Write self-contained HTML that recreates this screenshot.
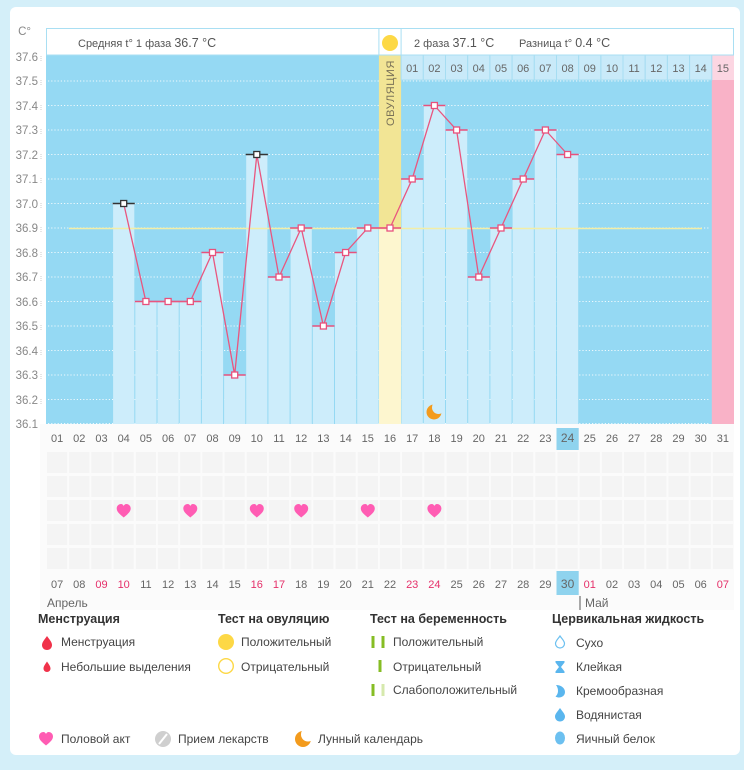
<!DOCTYPE html>
<html><head><meta charset="utf-8"><style>
html,body{margin:0;padding:0;background:#d4eff9;}
svg{display:block;font-family:"Liberation Sans",sans-serif;}
</style></head><body>
<svg width="744" height="770" viewBox="0 0 744 770" xmlns="http://www.w3.org/2000/svg">
<rect x="0" y="0" width="744" height="770" fill="#d4eff9"/>
<rect x="10" y="7" width="730" height="748" rx="6" fill="#ffffff"/>
<!-- bottom gray area -->
<rect x="40" y="424" width="694" height="186" fill="#fbfbfb"/>
<!-- plot bg -->
<rect x="46" y="55" width="688" height="369" fill="#95d9f3"/>
<!-- gridlines -->
<g stroke="#ffffff" stroke-width="1" stroke-dasharray="1.2 2" opacity="0.85">
<line x1="48" y1="81" x2="710" y2="81"/><line x1="48" y1="105.5" x2="710" y2="105.5"/>
<line x1="48" y1="130" x2="710" y2="130"/><line x1="48" y1="154.5" x2="710" y2="154.5"/>
<line x1="48" y1="179" x2="710" y2="179"/><line x1="48" y1="203.5" x2="710" y2="203.5"/>
<line x1="48" y1="228" x2="710" y2="228"/><line x1="48" y1="252.5" x2="710" y2="252.5"/>
<line x1="48" y1="277" x2="710" y2="277"/><line x1="48" y1="301.5" x2="710" y2="301.5"/>
<line x1="48" y1="326" x2="710" y2="326"/><line x1="48" y1="350.5" x2="710" y2="350.5"/>
<line x1="48" y1="375" x2="710" y2="375"/><line x1="48" y1="399.5" x2="710" y2="399.5"/>
<line x1="48" y1="423.5" x2="710" y2="423.5"/>
</g>
<!-- bars -->
<g fill="#cdedfb">
<rect x="113.1" y="203.5" width="21.2" height="220.5"/>
<rect x="135.3" y="301.5" width="21.2" height="122.5"/>
<rect x="157.5" y="301.5" width="21.2" height="122.5"/>
<rect x="179.7" y="301.5" width="21.2" height="122.5"/>
<rect x="201.9" y="252.5" width="21.2" height="171.5"/>
<rect x="224.1" y="375" width="21.2" height="49"/>
<rect x="246.2" y="154.5" width="21.2" height="269.5"/>
<rect x="268.4" y="277" width="21.2" height="147"/>
<rect x="290.6" y="228" width="21.2" height="196"/>
<rect x="312.8" y="326" width="21.2" height="98"/>
<rect x="335.0" y="252.5" width="21.2" height="171.5"/>
<rect x="357.2" y="228" width="21.2" height="196"/>
<rect x="401.6" y="179" width="21.2" height="245"/>
<rect x="423.8" y="105.5" width="21.2" height="318.5"/>
<rect x="446.0" y="130" width="21.2" height="294"/>
<rect x="468.2" y="277" width="21.2" height="147"/>
<rect x="490.4" y="228" width="21.2" height="196"/>
<rect x="512.6" y="179" width="21.2" height="245"/>
<rect x="534.8" y="130" width="21.2" height="294"/>
<rect x="557.0" y="154.5" width="21.2" height="269.5"/>
</g>
<!-- ovulation column -->
<rect x="378.9" y="55" width="22.2" height="173" fill="#f2e595"/>
<rect x="378.9" y="228" width="22.2" height="196" fill="#fdf6cf"/>
<text transform="translate(394,93) rotate(-90)" text-anchor="middle" font-size="11" fill="#7a7258" letter-spacing="0.6">ОВУЛЯЦИЯ</text>
<!-- pink column -->
<rect x="711.8" y="80" width="22.2" height="344" fill="#f9b2c7"/>
<rect x="711.8" y="55" width="22.2" height="25" fill="#fcd6e2"/>
<!-- cycle day row -->
<g fill="#c9eaf9" stroke="#a6ddf2" stroke-width="1">
<rect x="401.1" y="55" width="22.2" height="25"/><rect x="423.3" y="55" width="22.2" height="25"/>
<rect x="445.5" y="55" width="22.2" height="25"/><rect x="467.7" y="55" width="22.2" height="25"/>
<rect x="489.9" y="55" width="22.2" height="25"/><rect x="512.1" y="55" width="22.2" height="25"/>
<rect x="534.3" y="55" width="22.2" height="25"/><rect x="556.5" y="55" width="22.2" height="25"/>
<rect x="578.7" y="55" width="22.2" height="25"/><rect x="600.9" y="55" width="22.2" height="25"/>
<rect x="623.0" y="55" width="22.2" height="25"/><rect x="645.2" y="55" width="22.2" height="25"/>
<rect x="667.4" y="55" width="22.2" height="25"/><rect x="689.6" y="55" width="22.2" height="25"/>
</g>
<g font-size="11" fill="#666" text-anchor="middle">
<text x="412.2" y="72">01</text><text x="434.4" y="72">02</text><text x="456.6" y="72">03</text>
<text x="478.8" y="72">04</text><text x="501.0" y="72">05</text><text x="523.2" y="72">06</text>
<text x="545.4" y="72">07</text><text x="567.6" y="72">08</text><text x="589.8" y="72">09</text>
<text x="612.0" y="72">10</text><text x="634.1" y="72">11</text><text x="656.3" y="72">12</text>
<text x="678.5" y="72">13</text><text x="700.7" y="72">14</text><text x="722.9" y="72">15</text>
</g>
<!-- coverline -->
<line x1="69" y1="228.5" x2="702" y2="228.5" stroke="#f3eea6" stroke-width="1.6"/>
<!-- marker lines -->
<g stroke="#e8517c" stroke-width="1.5">
<line x1="134.8" y1="301.5" x2="201.4" y2="301.5"/>
<line x1="201.4" y1="252.5" x2="223.6" y2="252.5"/>
<line x1="223.6" y1="375" x2="245.7" y2="375"/>
<line x1="267.9" y1="277" x2="290.1" y2="277"/>
<line x1="290.1" y1="228" x2="312.3" y2="228"/>
<line x1="312.3" y1="326" x2="334.5" y2="326"/>
<line x1="334.5" y1="252.5" x2="356.7" y2="252.5"/>
<line x1="356.7" y1="228" x2="401.1" y2="228"/>
<line x1="401.1" y1="179" x2="423.3" y2="179"/>
<line x1="423.3" y1="105.5" x2="445.5" y2="105.5"/>
<line x1="445.5" y1="130" x2="467.7" y2="130"/>
<line x1="467.7" y1="277" x2="489.9" y2="277"/>
<line x1="489.9" y1="228" x2="512.1" y2="228"/>
<line x1="512.1" y1="179" x2="534.3" y2="179"/>
<line x1="534.3" y1="130" x2="556.5" y2="130"/>
<line x1="556.5" y1="154.5" x2="578.7" y2="154.5"/>
</g>
<g stroke="#333" stroke-width="1.5">
<line x1="112.6" y1="203.5" x2="134.8" y2="203.5"/>
<line x1="245.7" y1="154.5" x2="267.9" y2="154.5"/>
</g>
<!-- polyline -->
<polyline fill="none" stroke="#e9567f" stroke-width="1.3" points="123.68,203.5 145.87,301.5 168.07,301.5 190.26,301.5 212.46,252.5 234.65,375 256.84,154.5 279.04,277 301.23,228 323.43,326 345.62,252.5 367.81,228 390.01,228 412.2,179 434.4,105.5 456.59,130 478.78,277 500.98,228 523.17,179 545.37,130 567.56,154.5"/>
<!-- markers -->
<g fill="#fff" stroke="#e8517c" stroke-width="1.3">
<rect x="142.9" y="298.5" width="6" height="6"/><rect x="165.1" y="298.5" width="6" height="6"/>
<rect x="187.3" y="298.5" width="6" height="6"/><rect x="209.5" y="249.5" width="6" height="6"/>
<rect x="231.7" y="372" width="6" height="6"/><rect x="276.0" y="274" width="6" height="6"/>
<rect x="298.2" y="225" width="6" height="6"/><rect x="320.4" y="323" width="6" height="6"/>
<rect x="342.6" y="249.5" width="6" height="6"/><rect x="364.8" y="225" width="6" height="6"/>
<rect x="387.0" y="225" width="6" height="6"/><rect x="409.2" y="176" width="6" height="6"/>
<rect x="431.4" y="102.5" width="6" height="6"/><rect x="453.6" y="127" width="6" height="6"/>
<rect x="475.8" y="274" width="6" height="6"/><rect x="498.0" y="225" width="6" height="6"/>
<rect x="520.2" y="176" width="6" height="6"/><rect x="542.4" y="127" width="6" height="6"/>
<rect x="564.6" y="151.5" width="6" height="6"/>
</g>
<g fill="#fff" stroke="#333" stroke-width="1.3">
<rect x="120.7" y="200.5" width="6" height="6"/><rect x="253.8" y="151.5" width="6" height="6"/>
</g>
<!-- moon in plot -->
<circle cx="434" cy="412" r="7.5" fill="#f39b1d"/>
<circle cx="438.5" cy="407.5" r="6.5" fill="#cdedfb"/>
<!-- header -->
<rect x="46.5" y="28.5" width="687" height="26.5" fill="#fff" stroke="#a9dff3" stroke-width="1"/>
<line x1="378.9" y1="28.5" x2="378.9" y2="55" stroke="#a9dff3"/>
<line x1="401.1" y1="28.5" x2="401.1" y2="55" stroke="#a9dff3"/>
<circle cx="390" cy="43" r="8" fill="#fdd845"/>
<text x="78" y="47" fill="#555"><tspan font-size="11">Средняя t° 1 фаза </tspan><tspan font-size="12.5">36.7 °C</tspan></text>
<text x="414" y="47" fill="#555"><tspan font-size="11">2 фаза </tspan><tspan font-size="12.5">37.1 °C</tspan></text>
<text x="519" y="47" fill="#555"><tspan font-size="11">Разница t° </tspan><tspan font-size="12.5">0.4 °C</tspan></text>
<!-- y axis -->
<g font-size="11.5" fill="#888" text-anchor="end">
<text x="31" y="35">C°</text>
<text x="38" y="61">37.6</text><text x="38" y="85">37.5</text><text x="38" y="110">37.4</text>
<text x="38" y="134">37.3</text><text x="38" y="159">37.2</text><text x="38" y="183">37.1</text>
<text x="38" y="208">37.0</text><text x="38" y="232">36.9</text><text x="38" y="257">36.8</text>
<text x="38" y="281">36.7</text><text x="38" y="306">36.6</text><text x="38" y="330">36.5</text>
<text x="38" y="355">36.4</text><text x="38" y="379">36.3</text><text x="38" y="404">36.2</text>
<text x="38" y="428">36.1</text>
</g>
<g stroke="#cccccc" stroke-width="1" stroke-dasharray="1 1">
<line x1="41" y1="56" x2="41" y2="62"/><line x1="41" y1="80" x2="41" y2="86"/><line x1="41" y1="105" x2="41" y2="111"/>
<line x1="41" y1="129" x2="41" y2="135"/><line x1="41" y1="154" x2="41" y2="160"/><line x1="41" y1="178" x2="41" y2="184"/>
<line x1="41" y1="203" x2="41" y2="209"/><line x1="41" y1="227" x2="41" y2="233"/><line x1="41" y1="252" x2="41" y2="258"/>
<line x1="41" y1="276" x2="41" y2="282"/><line x1="41" y1="301" x2="41" y2="307"/><line x1="41" y1="325" x2="41" y2="331"/>
<line x1="41" y1="350" x2="41" y2="356"/><line x1="41" y1="374" x2="41" y2="380"/><line x1="41" y1="399" x2="41" y2="405"/>
</g>
<!-- date row 1 -->
<rect x="556.5" y="428" width="22.2" height="22" fill="#8fd3ee"/>
<g font-size="11" fill="#666" text-anchor="middle">
<text x="57.1" y="442">01</text><text x="79.3" y="442">02</text><text x="101.5" y="442">03</text>
<text x="123.7" y="442">04</text><text x="145.9" y="442">05</text><text x="168.1" y="442">06</text>
<text x="190.3" y="442">07</text><text x="212.5" y="442">08</text><text x="234.7" y="442">09</text>
<text x="256.8" y="442">10</text><text x="279.0" y="442">11</text><text x="301.2" y="442">12</text>
<text x="323.4" y="442">13</text><text x="345.6" y="442">14</text><text x="367.8" y="442">15</text>
<text x="390.0" y="442">16</text><text x="412.2" y="442">17</text><text x="434.4" y="442">18</text>
<text x="456.6" y="442">19</text><text x="478.8" y="442">20</text><text x="501.0" y="442">21</text>
<text x="523.2" y="442">22</text><text x="545.4" y="442">23</text><text x="567.6" y="442" font-size="12">24</text>
<text x="589.8" y="442">25</text><text x="612.0" y="442">26</text><text x="634.1" y="442">27</text>
<text x="656.3" y="442">28</text><text x="678.5" y="442">29</text><text x="700.7" y="442">30</text>
<text x="722.9" y="442">31</text>
</g>
<!-- lower grid -->
<defs>
<pattern id="cells" x="46" y="452" width="22.194" height="24" patternUnits="userSpaceOnUse">
<rect x="1" y="0" width="20.2" height="21" fill="#f4f4f4"/>
</pattern>
</defs>
<rect x="46" y="452" width="688" height="117" fill="url(#cells)"/>
<!-- hearts -->
<g fill="#ff5cb3">
<path transform="translate(123.7,511)" d="M0,6.5 C-2,4.5 -7,1.5 -7,-2.5 C-7,-5.5 -4.5,-7 -2.7,-7 C-1.3,-7 -0.4,-6 0,-5 C0.4,-6 1.3,-7 2.7,-7 C4.5,-7 7,-5.5 7,-2.5 C7,1.5 2,4.5 0,6.5Z"/>
<path transform="translate(190.3,511)" d="M0,6.5 C-2,4.5 -7,1.5 -7,-2.5 C-7,-5.5 -4.5,-7 -2.7,-7 C-1.3,-7 -0.4,-6 0,-5 C0.4,-6 1.3,-7 2.7,-7 C4.5,-7 7,-5.5 7,-2.5 C7,1.5 2,4.5 0,6.5Z"/>
<path transform="translate(256.8,511)" d="M0,6.5 C-2,4.5 -7,1.5 -7,-2.5 C-7,-5.5 -4.5,-7 -2.7,-7 C-1.3,-7 -0.4,-6 0,-5 C0.4,-6 1.3,-7 2.7,-7 C4.5,-7 7,-5.5 7,-2.5 C7,1.5 2,4.5 0,6.5Z"/>
<path transform="translate(301.2,511)" d="M0,6.5 C-2,4.5 -7,1.5 -7,-2.5 C-7,-5.5 -4.5,-7 -2.7,-7 C-1.3,-7 -0.4,-6 0,-5 C0.4,-6 1.3,-7 2.7,-7 C4.5,-7 7,-5.5 7,-2.5 C7,1.5 2,4.5 0,6.5Z"/>
<path transform="translate(367.8,511)" d="M0,6.5 C-2,4.5 -7,1.5 -7,-2.5 C-7,-5.5 -4.5,-7 -2.7,-7 C-1.3,-7 -0.4,-6 0,-5 C0.4,-6 1.3,-7 2.7,-7 C4.5,-7 7,-5.5 7,-2.5 C7,1.5 2,4.5 0,6.5Z"/>
<path transform="translate(434.4,511)" d="M0,6.5 C-2,4.5 -7,1.5 -7,-2.5 C-7,-5.5 -4.5,-7 -2.7,-7 C-1.3,-7 -0.4,-6 0,-5 C0.4,-6 1.3,-7 2.7,-7 C4.5,-7 7,-5.5 7,-2.5 C7,1.5 2,4.5 0,6.5Z"/>
</g>
<!-- date row 2 -->
<rect x="556.5" y="571" width="22.2" height="24" fill="#8fd3ee"/>
<g font-size="11" fill="#666" text-anchor="middle">
<text x="57.1" y="588">07</text><text x="79.3" y="588">08</text><text x="101.5" y="588" fill="#e5306a">09</text>
<text x="123.7" y="588" fill="#e5306a">10</text><text x="145.9" y="588">11</text><text x="168.1" y="588">12</text>
<text x="190.3" y="588">13</text><text x="212.5" y="588">14</text><text x="234.7" y="588">15</text>
<text x="256.8" y="588" fill="#e5306a">16</text><text x="279.0" y="588" fill="#e5306a">17</text><text x="301.2" y="588">18</text>
<text x="323.4" y="588">19</text><text x="345.6" y="588">20</text><text x="367.8" y="588">21</text>
<text x="390.0" y="588">22</text><text x="412.2" y="588" fill="#e5306a">23</text><text x="434.4" y="588" fill="#e5306a">24</text>
<text x="456.6" y="588">25</text><text x="478.8" y="588">26</text><text x="501.0" y="588">27</text>
<text x="523.2" y="588">28</text><text x="545.4" y="588">29</text><text x="567.6" y="588" font-size="12">30</text>
<text x="589.8" y="588" fill="#e5306a">01</text><text x="612.0" y="588">02</text><text x="634.1" y="588">03</text>
<text x="656.3" y="588">04</text><text x="678.5" y="588">05</text><text x="700.7" y="588">06</text>
<text x="722.9" y="588" fill="#e5306a">07</text>
</g>
<text x="47" y="607" font-size="12" fill="#666">Апрель</text>
<line x1="580" y1="596" x2="580" y2="610" stroke="#555" stroke-width="1"/>
<text x="585" y="607" font-size="12" fill="#666">Май</text>
<!-- legend -->
<g font-size="12.5" font-weight="bold" fill="#333">
<text x="38" y="623">Менструация</text>
<text x="218" y="623">Тест на овуляцию</text>
<text x="370" y="623">Тест на беременность</text>
<text x="552" y="623">Цервикальная жидкость</text>
</g>
<g font-size="12" fill="#444">
<text x="61" y="646">Менструация</text>
<text x="61" y="671">Небольшие выделения</text>
<text x="241" y="646">Положительный</text>
<text x="241" y="671">Отрицательный</text>
<text x="393" y="646">Положительный</text>
<text x="393" y="671">Отрицательный</text>
<text x="393" y="694">Слабоположительный</text>
<text x="576" y="647">Сухо</text>
<text x="576" y="671">Клейкая</text>
<text x="576" y="695">Кремообразная</text>
<text x="576" y="719">Водянистая</text>
<text x="576" y="743">Яичный белок</text>
<text x="61" y="743">Половой акт</text>
<text x="178" y="743">Прием лекарств</text>
<text x="318" y="743">Лунный календарь</text>
</g>
<!-- legend icons -->
<path d="M47,636 C49,639 52,642 52,645 C52,648 49.8,650 47,650 C44.2,650 42,648 42,645 C42,642 45,639 47,636Z" fill="#f0324a"/>
<path d="M47,661.5 C48.5,664 50.5,666 50.5,668.5 C50.5,670.5 49,672 47,672 C45,672 43.5,670.5 43.5,668.5 C43.5,666 45.5,664 47,661.5Z" fill="#f0324a"/>
<circle cx="226" cy="642" r="8" fill="#fdd845"/>
<circle cx="226" cy="666" r="7.3" fill="#fff" stroke="#fdd845" stroke-width="1.4"/>
<rect x="371.5" y="636" width="3" height="12" fill="#86bd24"/>
<rect x="381.5" y="636" width="3" height="12" fill="#86bd24"/>
<rect x="378.5" y="660" width="3" height="12" fill="#86bd24"/>
<rect x="371.5" y="684" width="3" height="12" fill="#86bd24"/>
<rect x="381.5" y="684" width="3" height="12" fill="#d6e9ad"/>
<path d="M560,636 C562,639 564.5,641 564.5,643.5 C564.5,646 562.5,648 560,648 C557.5,648 555.5,646 555.5,643.5 C555.5,641 558,639 560,636Z" fill="#fff" stroke="#6cc0f0" stroke-width="1.2"/>
<path d="M555.5,661 L564.5,661 L564.5,662.5 L561,667 L564.5,671.5 L564.5,673 L555.5,673 L555.5,671.5 L559,667 L555.5,662.5Z" fill="#5ab6ee"/>
<path d="M556,685 C561,685 565,688 565,692 C565,695.5 562,697.5 559,697.5 C557,697.5 555.5,696.5 555.5,696.5 C558.5,694 559,689 556,685Z" fill="#5ab6ee"/>
<path d="M560,708 C562.5,711.5 565,714 565,716.5 C565,719.5 562.7,721.5 560,721.5 C557.3,721.5 555,719.5 555,716.5 C555,714 557.5,711.5 560,708Z" fill="#5ab6ee"/>
<ellipse cx="560" cy="738" rx="5" ry="6.5" fill="#6cc0f0"/>
<path transform="translate(46,739)" d="M0,6.5 C-2,4.5 -7,1.5 -7,-2.5 C-7,-5.5 -4.5,-7 -2.7,-7 C-1.3,-7 -0.4,-6 0,-5 C0.4,-6 1.3,-7 2.7,-7 C4.5,-7 7,-5.5 7,-2.5 C7,1.5 2,4.5 0,6.5Z" fill="#ff5cb3"/>
<circle cx="163" cy="739" r="8" fill="#cfcfcf"/>
<line x1="159" y1="744" x2="167" y2="734" stroke="#fff" stroke-width="2"/>
<circle cx="303" cy="739" r="8" fill="#f39b1d"/>
<circle cx="308" cy="734.5" r="7" fill="#fff"/>
</svg>
</body></html>
